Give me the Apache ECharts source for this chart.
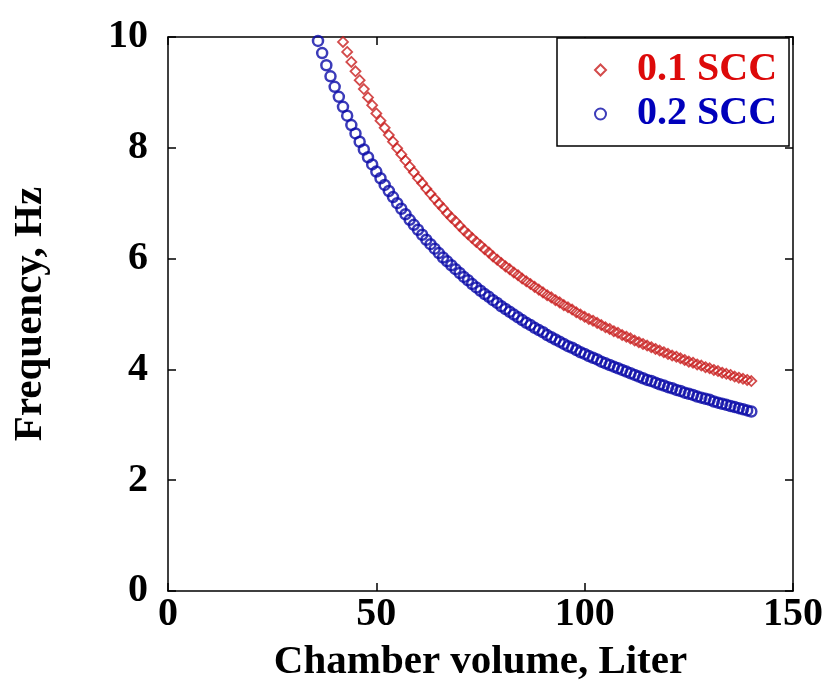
<!DOCTYPE html>
<html>
<head>
<meta charset="utf-8">
<title>Frequency vs chamber volume</title>
<script src="https://cdn.jsdelivr.net/npm/echarts@6/dist/echarts.min.js"></script>
<style>
    html, body { margin: 0; padding: 0; background: #fff; }
    #chart { width: 825px; height: 686px; }
</style>
</head>
<body>
<div id="chart"></div>
<script>
    //坐标轴刻度
    var xTicks = [0, 50, 100, 150];
    var yTicks = [0, 2, 4, 6, 8, 10];

    //0.1 SCC 数据 (体积 L, 频率 Hz)
    var volume01 = [
        42, 43, 44, 45, 46, 47, 48, 49, 50, 51,
        52, 53, 54, 55, 56, 57, 58, 59, 60, 61,
        62, 63, 64, 65, 66, 67, 68, 69, 70, 71,
        72, 73, 74, 75, 76, 77, 78, 79, 80, 81,
        82, 83, 84, 85, 86, 87, 88, 89, 90, 91,
        92, 93, 94, 95, 96, 97, 98, 99, 100, 101,
        102, 103, 104, 105, 106, 107, 108, 109, 110, 111,
        112, 113, 114, 115, 116, 117, 118, 119, 120, 121,
        122, 123, 124, 125, 126, 127, 128, 129, 130, 131,
        132, 133, 134, 135, 136, 137, 138, 139, 140
    ];
    var freq01 = [
        9.91, 9.73, 9.55, 9.38, 9.22, 9.06, 8.91, 8.77, 8.62, 8.49,
        8.36, 8.23, 8.11, 7.99, 7.88, 7.77, 7.66, 7.56, 7.45, 7.36,
        7.26, 7.17, 7.08, 6.99, 6.91, 6.82, 6.74, 6.67, 6.59, 6.51,
        6.44, 6.37, 6.30, 6.24, 6.17, 6.11, 6.04, 5.98, 5.92, 5.86,
        5.81, 5.75, 5.70, 5.64, 5.59, 5.54, 5.49, 5.44, 5.39, 5.34,
        5.30, 5.25, 5.21, 5.16, 5.12, 5.08, 5.03, 4.99, 4.95, 4.91,
        4.88, 4.84, 4.80, 4.76, 4.73, 4.69, 4.66, 4.62, 4.59, 4.56,
        4.52, 4.49, 4.46, 4.43, 4.40, 4.37, 4.34, 4.31, 4.28, 4.25,
        4.23, 4.20, 4.17, 4.14, 4.12, 4.09, 4.07, 4.04, 4.02, 3.99,
        3.97, 3.94, 3.92, 3.90, 3.87, 3.85, 3.83, 3.81, 3.79
    ];

    //0.2 SCC 数据
    var volume02 = [
        36, 37, 38, 39, 40, 41, 42, 43, 44, 45,
        46, 47, 48, 49, 50, 51, 52, 53, 54, 55,
        56, 57, 58, 59, 60, 61, 62, 63, 64, 65,
        66, 67, 68, 69, 70, 71, 72, 73, 74, 75,
        76, 77, 78, 79, 80, 81, 82, 83, 84, 85,
        86, 87, 88, 89, 90, 91, 92, 93, 94, 95,
        96, 97, 98, 99, 100, 101, 102, 103, 104, 105,
        106, 107, 108, 109, 110, 111, 112, 113, 114, 115,
        116, 117, 118, 119, 120, 121, 122, 123, 124, 125,
        126, 127, 128, 129, 130, 131, 132, 133, 134, 135,
        136, 137, 138, 139, 140
    ];
    var freq02 = [
        9.93, 9.71, 9.49, 9.29, 9.10, 8.92, 8.74, 8.58, 8.41, 8.26,
        8.11, 7.97, 7.83, 7.70, 7.57, 7.45, 7.33, 7.22, 7.11, 7.00,
        6.90, 6.80, 6.70, 6.61, 6.52, 6.43, 6.34, 6.26, 6.18, 6.10,
        6.02, 5.95, 5.88, 5.81, 5.74, 5.67, 5.61, 5.54, 5.48, 5.42,
        5.36, 5.31, 5.25, 5.20, 5.14, 5.09, 5.04, 4.99, 4.94, 4.89,
        4.84, 4.80, 4.75, 4.71, 4.67, 4.62, 4.58, 4.54, 4.50, 4.46,
        4.42, 4.39, 4.35, 4.31, 4.28, 4.24, 4.21, 4.18, 4.14, 4.11,
        4.08, 4.05, 4.02, 3.99, 3.96, 3.93, 3.90, 3.87, 3.84, 3.81,
        3.79, 3.76, 3.73, 3.71, 3.68, 3.66, 3.63, 3.61, 3.58, 3.56,
        3.54, 3.51, 3.49, 3.47, 3.45, 3.42, 3.40, 3.38, 3.36, 3.34,
        3.32, 3.30, 3.28, 3.26, 3.24
    ];

    var FONT = '"Liberation Serif", "Times New Roman", serif';

    //简单的对象合并
    function extend(a, b) {
        for (var k in b) a[k] = b[k];
        return a;
    }

    //组合成点
    function toPoints(xs, ys) {
        var pts = [];
        for (var i = 0; i < xs.length; i++) {
            pts.push([xs[i], ys[i]]);
        }
        return pts;
    }

    var lineStyle = { color: '#000', width: 1.5 };
    var tickStyle = { show: true, inside: true, length: 8, lineStyle: lineStyle };
    var labelStyle = { fontFamily: FONT, fontWeight: 'bold', fontSize: 40, color: '#000' };
    var nameStyle = { fontFamily: FONT, fontWeight: 'bold', fontSize: 41, color: '#000' };

    //x轴 (下 + 上镜像)
    function makeX(pos) {
        return {
            type: 'value',
            position: pos,
            min: xTicks[0],
            max: xTicks[xTicks.length - 1],
            interval: xTicks[1] - xTicks[0],
            name: pos == 'bottom' ? 'Chamber volume, Liter' : '',
            nameLocation: 'middle',
            nameGap: 51,
            nameTextStyle: nameStyle,
            axisLine: { show: true, onZero: false, lineStyle: lineStyle },
            axisTick: tickStyle,
            axisLabel: pos == 'bottom' ? extend({ show: true, margin: 4 }, labelStyle) : { show: false },
            splitLine: { show: false }
        };
    }

    //y轴 (左 + 右镜像)
    function makeY(pos) {
        return {
            type: 'value',
            position: pos,
            min: yTicks[0],
            max: yTicks[yTicks.length - 1],
            interval: yTicks[1] - yTicks[0],
            name: pos == 'left' ? 'Frequency, Hz' : '',
            nameLocation: 'middle',
            nameGap: 117,
            nameTextStyle: nameStyle,
            axisLine: { show: true, onZero: false, lineStyle: lineStyle },
            axisTick: tickStyle,
            axisLabel: pos == 'left' ? extend({ show: true, margin: 20 }, labelStyle) : { show: false },
            splitLine: { show: false }
        };
    }

    var myChart = echarts.init(document.getElementById('chart'), null, { renderer: 'canvas' });

    var option = {
        animation: false,
        backgroundColor: '#fff',
        grid: { left: 168, right: 32, top: 37, bottom: 95, outerBoundsMode: 'none' },
        legend: {
            orient: 'vertical',
            left: 557,
            top: 38,
            padding: [12, 12, 12, 37],
            itemWidth: 11,
            itemHeight: 11,
            itemGap: 4,
            borderColor: '#000',
            borderWidth: 1.5,
            backgroundColor: '#fff',
            textStyle: { fontFamily: FONT, fontWeight: 'bold', fontSize: 40, lineHeight: 40, padding: [0, 0, 0, 26] },
            data: [
                { name: '0.1 SCC', textStyle: { color: '#dd0a0a' } },
                { name: '0.2 SCC', textStyle: { color: '#0000bb' } }
            ]
        },
        xAxis: [makeX('bottom'), makeX('top')],
        yAxis: [makeY('left'), makeY('right')],
        series: [
            {
                name: '0.1 SCC',
                type: 'scatter',
                symbol: 'diamond',
                symbolSize: 10,
                itemStyle: { color: 'transparent', borderColor: '#c81e1e', borderWidth: 1.8 },
                data: toPoints(volume01, freq01)
            },
            {
                name: '0.2 SCC',
                type: 'scatter',
                symbol: 'circle',
                symbolSize: 10,
                itemStyle: { color: 'transparent', borderColor: '#0a0aa8', borderWidth: 2.5 },
                data: toPoints(volume02, freq02)
            }
        ]
    };

    myChart.setOption(option);
</script>
</body>
</html>
